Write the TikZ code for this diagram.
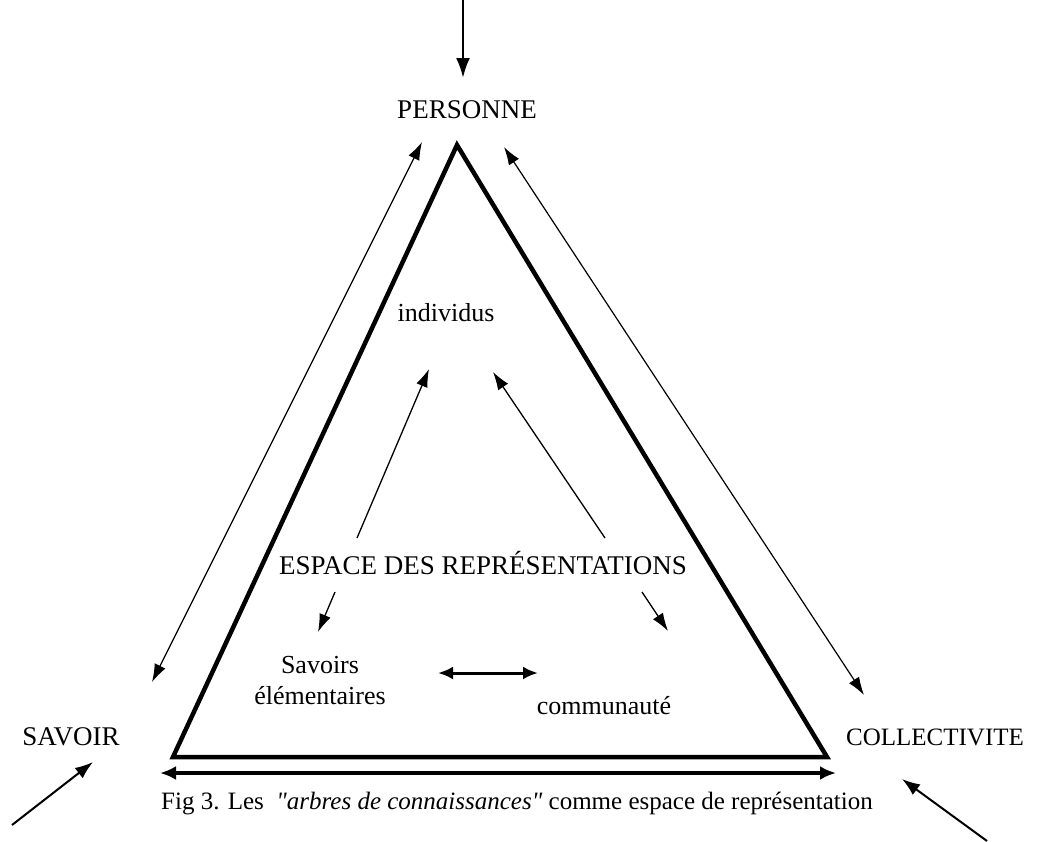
\documentclass[tikz,border=0pt]{standalone}
\usepackage{fontspec}
\setmainfont{Liberation Serif}
\newfontfamily\plainserif{Liberation Serif}
\usetikzlibrary{arrows.meta}
\begin{document}
\begin{tikzpicture}[x=1pt,y=-1pt,
  lbl/.style={inner sep=0pt,font=\fontsize{27}{31}\selectfont},
  sml/.style={inner sep=0pt,font=\fontsize{26}{31}\selectfont,align=center},
  thin/.style={line width=1.3pt,-{Latex[length=18pt,width=12pt]}},
  thinboth/.style={line width=1.2pt,{Latex[length=18pt,width=12pt]}-{Latex[length=18pt,width=12pt]}},
  thick/.style={line width=2.6pt,-{Latex[length=20pt,width=14pt]}},
  heavyboth/.style={line width=3.8pt,{Latex[length=16pt,width=14pt]}-{Latex[length=16pt,width=14pt]}}]
\useasboundingbox (0,0) rectangle (1043,841);
\fill[white] (0,0) rectangle (1043,841);

% triangle
\coordinate (apex) at (457,145);
\coordinate (bl) at (173,757);
\coordinate (br) at (827,757);
\draw[line width=4.5pt,line join=miter] (apex) -- (br) -- (bl) -- cycle;

% labels
\node[lbl] (personne) at (467,110) {PERSONNE};
\node[lbl] (savoir) at (71,737) {SAVOIR};
\node[inner sep=0pt,font=\fontsize{25}{29}\selectfont] (collect) at (935,737) {COLLECTIVITE};
\node[sml] (indiv) at (446,313) {individus};
\node[lbl] (espace) at (483,563) {ESPACE DES REPRÉSENTATIONS};
\node[sml] (savel) at (320,681) {Savoirs\\élémentaires};
\node[sml] (commu) at (604,706) {communauté};
\node[inner sep=0pt,font=\plainserif\fontsize{25}{29}\selectfont] (caption) at (517,803)
  {Fig 3. Les \ \textit{"arbres de connaissances"} comme espace de représentation};

% outer arrows
\coordinate (topin) at (463,0);
\draw[thick] (topin) -- (463,78) coordinate (toptip);
\coordinate (blin) at (12,825);
\draw[line width=2pt,-{Latex[length=18pt,width=13pt]}] (blin) -- (93,762) coordinate (bltip);
\coordinate (brin) at (987,841);
\draw[line width=2pt,-{Latex[length=18pt,width=13pt]}] (brin) -- (902,779) coordinate (brtip);

% sides of the triangle
\coordinate (ls1) at (152,682);
\coordinate (ls2) at (422,142);
\draw[thinboth] (ls1) -- (ls2);
\coordinate (rs1) at (504,147);
\coordinate (rs2) at (864,695);
\draw[thinboth] (rs1) -- (rs2);
\coordinate (bot1) at (160,773);
\coordinate (bot2) at (836,773);
\draw[heavyboth] (bot1) -- (bot2);

% inner arrows
\coordinate (e1) at (357,538);
\coordinate (i1) at (429,369);
\draw[thin] (e1) -- (i1);
\coordinate (e2) at (605,538);
\coordinate (i2) at (493,372);
\draw[thin] (e2) -- (i2);
\coordinate (e3) at (335,592);
\coordinate (s3) at (318,632);
\draw[thin] (e3) -- (s3);
\coordinate (e4) at (642,592);
\coordinate (c4) at (668,631);
\draw[thin] (e4) -- (c4);
\coordinate (m1) at (438,673);
\coordinate (m2) at (538,673);
\draw[line width=3pt,{Latex[length=15pt,width=13pt]}-{Latex[length=15pt,width=13pt]}] (m1) -- (m2);
\end{tikzpicture}
\end{document}
